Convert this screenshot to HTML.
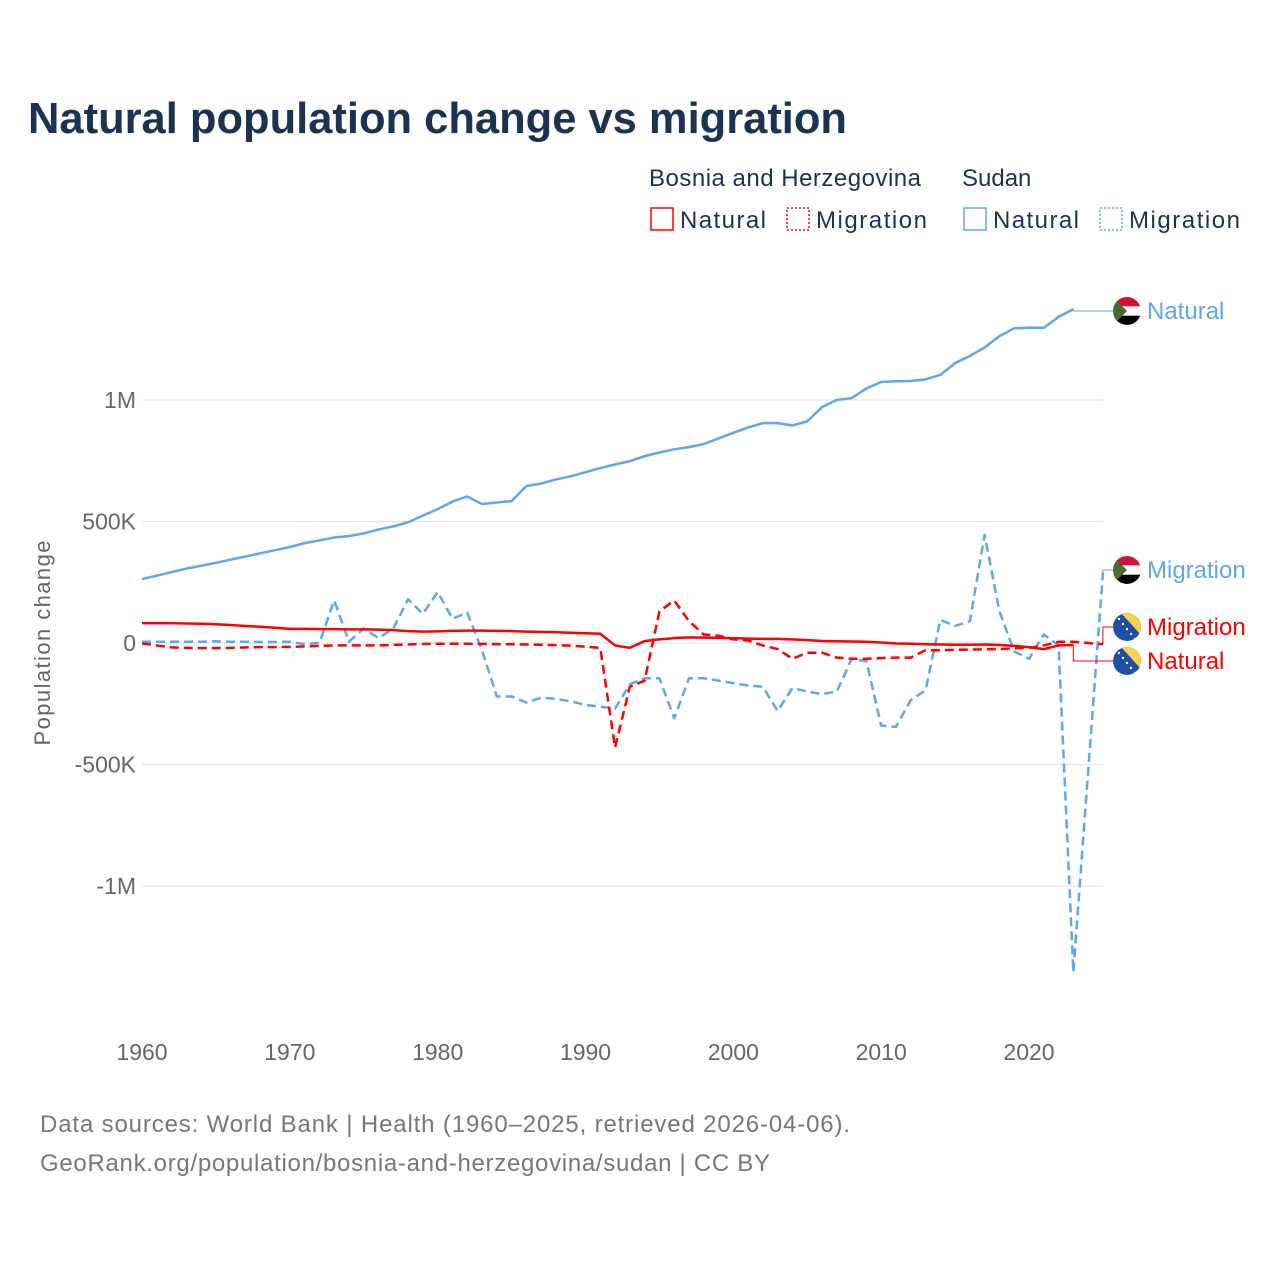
<!DOCTYPE html>
<html><head><meta charset="utf-8"><style>
body{margin:0;background:#fff;font-family:"Liberation Sans",sans-serif}
svg text{font-family:"Liberation Sans",sans-serif}
</style></head><body>
<svg id="chart" width="1280" height="1280" viewBox="0 0 1280 1280">
<defs>
<clipPath id="fc"><circle cx="0" cy="0" r="14"/></clipPath>
<g id="sdflag"><g clip-path="url(#fc)"><rect x="-14" y="-14" width="28" height="10" fill="#d21034"/><rect x="-14" y="-4.7" width="28" height="9.4" fill="#fff"/><rect x="-14" y="4.7" width="28" height="10" fill="#000"/><polygon points="-14,-14 0,0 -14,14" fill="#4a6b2e"/></g></g>
<g id="baflag"><g clip-path="url(#fc)"><rect x="-14" y="-14" width="28" height="28" fill="#1d4fa8"/><polygon points="-6,-14 14,-14 14,8" fill="#f8d24b"/><g fill="#fff"><circle cx="-8" cy="-8" r="1.2"/><circle cx="-4" cy="-3" r="1.2"/><circle cx="0" cy="2" r="1.2"/><circle cx="4" cy="7" r="1.2"/><circle cx="8" cy="12" r="1.2"/></g></g></g>
</defs>
<text x="28" y="133" font-size="44" font-weight="bold" fill="#1b3350" textLength="819" lengthAdjust="spacingAndGlyphs">Natural population change vs migration</text>
<g font-size="24" fill="#1b3350">
<text x="649" y="186" textLength="272">Bosnia and Herzegovina</text>
<text x="962" y="186">Sudan</text>
<g><rect x="651" y="208" width="22" height="22" fill="none" stroke="#f00" stroke-width="1.5"/><text x="680" y="228" textLength="86">Natural</text></g>
<g><rect x="787" y="208" width="22" height="22" fill="none" stroke="#f00" stroke-width="1.5" stroke-dasharray="2,2"/><text x="816" y="228" textLength="111">Migration</text></g>
<g><rect x="964" y="208" width="22" height="22" fill="none" stroke="#5ca8ea" stroke-width="1.5"/><text x="993" y="228" textLength="86">Natural</text></g>
<g><rect x="1100" y="208" width="22" height="22" fill="none" stroke="#5ca8ea" stroke-width="1.5" stroke-dasharray="2,2"/><text x="1129" y="228" textLength="111">Migration</text></g>
</g>
<text transform="translate(50,643) rotate(-90)" text-anchor="middle" font-size="22" fill="#666" textLength="205">Population change</text>
<g id="grid"></g><g id="xt"></g><g id="lines"></g><g id="labels"></g>
<text x="40" y="1132" font-size="24" fill="#777" textLength="810">Data sources: World Bank | Health (1960–2025, retrieved 2026-04-06).</text>
<text x="40" y="1171" font-size="24" fill="#777" textLength="730">GeoRank.org/population/bosnia-and-herzegovina/sudan | CC BY</text>
</svg>
<script>
const yTicks=[1000,500,0,-500,-1000];
const yTickLabels=["1M","500K","0","-500K","-1M"];
const xTicks=[1960,1970,1980,1990,2000,2010,2020];
const sdNatural=[263,277,292,306,318,330,343,356,369,382,395,411,422,434,440,451,467,480,497,524,551,582,603,572,578,584,646,656,673,686,703,720,735,748,769,784,797,806,819,842,865,887,905,905,895,912,971,1000,1008,1047,1074,1077,1078,1085,1103,1152,1181,1216,1263,1295,1298,1297,1342,1374];
const sdMigration=[5,5,5,5,5,7,5,5,4,4,5,-5,0,175,5,60,20,60,180,120,210,100,125,-30,-220,-220,-245,-225,-230,-240,-255,-262,-270,-170,-145,-145,-310,-145,-145,-155,-165,-175,-180,-280,-185,-200,-210,-200,-65,-75,-340,-345,-235,-195,95,70,90,445,130,-35,-65,35,-10,-1355,-530,290];
const bihNatural=[82,82,82,80,79,77,74,70,67,63,58,58,57,57,56,56,55,53,49,47,48,50,51,51,50,49,47,46,44,42,40,38,-10,-20,8,15,20,23,22,21,20,18,17,17,15,12,8,7,6,5,2,-2,-3,-5,-6,-7,-7,-6,-8,-12,-17,-25,-10,-8];
const bihMigration=[-2,-10,-18,-20,-21,-21,-20,-18,-17,-17,-16,-14,-12,-10,-10,-10,-10,-8,-6,-4,-3,-3,-3,-4,-5,-5,-6,-7,-9,-11,-15,-20,-430,-180,-155,130,175,90,35,30,15,10,-10,-25,-65,-40,-40,-60,-65,-65,-62,-60,-60,-30,-30,-28,-27,-26,-25,-22,-20,-10,5,5,0,-5];
const NS="http://www.w3.org/2000/svg";
const X=yr=>142+(yr-1960)*(1029-142)/60;
const Y=v=>643-v*0.243;
function mk(t,a,p){const e=document.createElementNS(NS,t);for(const k in a)e.setAttribute(k,a[k]);p.appendChild(e);return e;}
const grid=document.getElementById('grid');
yTicks.forEach((v,i)=>{
 const l=mk('line',{x1:142,x2:1103,y1:Y(v),y2:Y(v),stroke:'#e6e6e6','stroke-width':1.2},grid);
 
 
 const t=mk('text',{x:136,y:Y(v)+8,'text-anchor':'end','font-size':23,fill:'#666'},grid);
 t.textContent=yTickLabels[i];
 
 
});
const xt=document.getElementById('xt');
xTicks.forEach(v=>{
 const t=mk('text',{x:X(v),y:1060,'text-anchor':'middle','font-size':23,fill:'#666'},xt);
 t.textContent=v;
 
 
});
const lines=document.getElementById('lines');
function series(d,col,dash,name){
 const pts=d.map((v,i)=>X(1960+i)+','+Y(v)).join(' ');
 const p=mk('polyline',{points:pts,fill:'none',stroke:col,'stroke-width':2.5,'stroke-linejoin':'round'},lines);
 if(dash)p.setAttribute('stroke-dasharray','9,5');
 
 
 return p;
}
series(sdNatural,'#5ca8ea',false,'sudan-natural-line');
series(sdMigration,'#5ca8ea',true,'sudan-migration-line');
series(bihNatural,'#f00',false,'bih-natural-line');
series(bihMigration,'#f00',true,'bih-migration-line');
const labels=document.getElementById('labels');
function lab(d,ly,col,flag,txt,name){
 const n=d.length-1,x0=X(1960+n),y0=Y(d[n]);
 const c=mk('polyline',{points:`${x0},${y0} ${x0},${ly} 1113,${ly}`,fill:'none',stroke:col,'stroke-width':1},labels);
 
 
 const u=mk('use',{href:'#'+flag,x:1127,y:ly},labels);
 
 
 const t=mk('text',{x:1147,y:ly+8,'font-size':24,fill:col},labels);
 t.textContent=txt;
 
 
}
lab(sdNatural,311,'#5ca8ea','sdflag','Natural','sudan-natural');
lab(sdMigration,570,'#5ca8ea','sdflag','Migration','sudan-migration');
lab(bihMigration,627,'#f00','baflag','Migration','bih-migration');
lab(bihNatural,661,'#f00','baflag','Natural','bih-natural');
</script>
</body></html>
